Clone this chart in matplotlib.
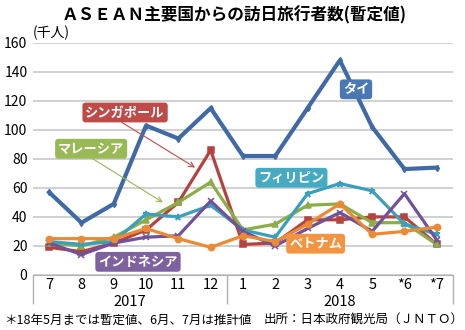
import matplotlib.pyplot as plt
from matplotlib.transforms import blended_transform_factory

plt.rcParams['font.family'] = ['Noto Sans CJK JP', 'DejaVu Sans']

months = ["7", "8", "9", "10", "11", "12", "1", "2", "3", "4", "5", "*6", "*7"]
years = ["2017", "2018"]

thailand = [57, 36, 49, 103, 94, 115, 82, 82, 115, 148, 102, 73, 74]
singapore = [19, 16, 22, 31, 50, 86, 21, 22, 38, 38, 40, 40, 21]
malaysia = [22, 20, 26, 38, 50, 64, 31, 35, 48, 49, 36, 36, 21]
philippines = [23, 21, 23, 42, 40, 48, 31, 26, 56, 63, 58, 35, 28]
indonesia = [22, 14, 22, 26, 27, 51, 30, 20, 32, 43, 30, 56, 24]
vietnam = [25, 25, 25, 32, 25, 19, 27, 23, 35, 49, 28, 30, 33]

names = ["タイ", "シンガポール", "マレーシア", "フィリピン", "インドネシア", "ベトナム"]
series = [thailand, singapore, malaysia, philippines, indonesia, vietnam]
line_colors = ["#3F6AA5", "#B5423F", "#8AAD47", "#3A9FBA", "#70519A", "#EB8A34"]
box_colors = ["#4A78B2", "#BE4B48", "#98B954", "#47AAC3", "#7E62A0", "#F29441"]
markers = ["d", "s", "^", "*", "x", "o"]
msizes = [3, 4.5, 4, 4.5, 4.5, 4.5]

fig = plt.figure(figsize=(4.65, 3.3), dpi=100)
ax = fig.add_axes([0.071, 0.167, 0.903, 0.703])

x = list(range(len(months)))
for vals, col, mk, ms in zip(series, line_colors, markers, msizes):
    lw = 3.0 if mk == "d" else 2.3
    ax.plot(x, vals, color=col, lw=lw, marker=mk, markersize=ms,
            markeredgewidth=1.1, zorder=3)

ax.set_xlim(-0.5, len(months) - 0.5)
ax.set_ylim(0, 160)
ax.set_yticks(range(0, 161, 20))
ax.grid(axis="y", color="#C8C8C8", lw=1.2)
ax.set_axisbelow(True)
for s in ["left", "right", "top"]:
    ax.spines[s].set_visible(False)
ax.spines["bottom"].set_color("#B0B0B0")
ax.tick_params(axis="y", length=0, labelsize=10, pad=4)
ax.set_xticks(x)
ax.set_xticklabels(months)
ax.tick_params(axis="x", length=0, labelsize=10.5, pad=2)
ax.set_xticks([-0.5, 5.5, len(months) - 0.5], minor=True)
ax.tick_params(axis="x", which="minor", length=21, color="#B0B0B0", width=1)

trans = blended_transform_factory(ax.transData, ax.transAxes)
ax.text(2.5, -0.115, years[0], transform=trans, ha="center", va="center", fontsize=10.5)
ax.text(9.0, -0.115, years[1], transform=trans, ha="center", va="center", fontsize=10.5)

ax.text(0.0, 1.01, "(千人)", transform=ax.transAxes, ha="left", va="bottom", fontsize=10)

# label boxes
label_pos = [(9.5, 128), (2.35, 112), (1.3, 87), (7.5, 67), (2.75, 9), (8.25, 21.5)]
arrows = {1: ((4.52, 74), (0.4, 0)), 2: ((3.52, 50), (0.45, 0))}
for i, (name, pos) in enumerate(zip(names, label_pos)):
    bbox = dict(boxstyle="round,pad=0.22,rounding_size=0.25", fc=box_colors[i], ec="none")
    if i in arrows:
        tip, rp = arrows[i]
        ax.annotate(name, xy=tip, xytext=pos, ha="center", va="center",
                    color="white", fontsize=9.5, fontweight="bold", bbox=bbox, zorder=5,
                    arrowprops=dict(arrowstyle="->", color=box_colors[i], lw=0.8,
                                    relpos=rp, shrinkA=0, shrinkB=0))
    else:
        ax.text(pos[0], pos[1], name, ha="center", va="center", color="white",
                fontsize=9.5, fontweight="bold", bbox=bbox, zorder=5)

fig.text(0.503, 0.955, "ＡＳＥＡＮ主要国からの訪日旅行者数(暫定値)", ha="center", va="center",
         fontsize=12, fontweight="bold")
fig.text(0.008, 0.03, "＊18年5月までは暫定値、6月、7月は推計値", ha="left", va="center", fontsize=9)
fig.text(0.997, 0.03, "出所：日本政府観光局（ＪＮＴＯ）", ha="right", va="center", fontsize=9)

fig.savefig("out.png", dpi=100)
